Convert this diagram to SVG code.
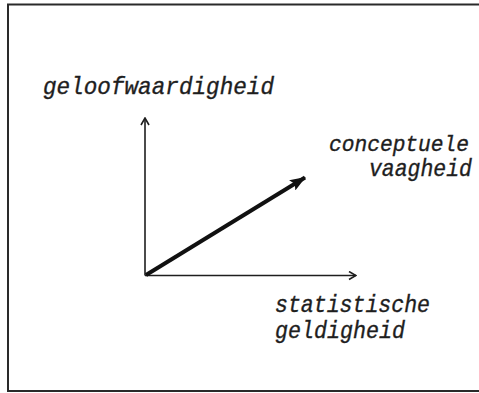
<svg xmlns="http://www.w3.org/2000/svg" width="479" height="393" viewBox="0 0 479 393">
<style>
.lbl{font-family:"Liberation Mono","DejaVu Sans Mono",monospace;font-style:italic;font-size:23px;fill:#1e1e1e;stroke:#1e1e1e;stroke-width:0.35}
.axis{stroke:#1e1e1e;stroke-width:1.6;fill:none}
</style>
<defs>
<marker id="open" viewBox="0 0 10 10" refX="9" refY="5" markerWidth="10" markerHeight="10" markerUnits="userSpaceOnUse" orient="auto">
<path d="M2,1 L9,5 L2,9" fill="none" stroke="#1e1e1e" stroke-width="1.6"/>
</marker>
<marker id="solid" viewBox="0 0 16 12" refX="15" refY="6" markerWidth="16" markerHeight="12" markerUnits="userSpaceOnUse" orient="auto">
<path d="M0,0 L16,6 L0,12 L3,6 Z" fill="#111"/>
</marker>
</defs>
<rect width="479" height="393" fill="#fff"/>
<path d="M479,4.5 H8 V391 H479" fill="none" stroke="#2a2a2a" stroke-width="2"/>
<g id="connectors">
<line class="axis" x1="145" y1="275.5" x2="145" y2="118" marker-end="url(#open)"/>
<line class="axis" x1="145" y1="275.5" x2="356" y2="275.5" marker-end="url(#open)"/>
<line x1="146" y1="275" x2="305" y2="177.5" stroke="#111" stroke-width="4" marker-end="url(#solid)"/>
</g>
<g id="geloofwaardigheid"><text class="lbl" x="43" y="94" textLength="231" lengthAdjust="spacingAndGlyphs">geloofwaardigheid</text></g>
<g id="conceptuele-vaagheid">
<text class="lbl" x="329" y="151" textLength="140" lengthAdjust="spacingAndGlyphs" style="font-size:22px">conceptuele</text>
<text class="lbl" x="369" y="175.5" textLength="103" lengthAdjust="spacingAndGlyphs">vaagheid</text>
</g>
<g id="statistische-geldigheid">
<text class="lbl" x="275" y="312" textLength="155" lengthAdjust="spacingAndGlyphs">statistische</text>
<text class="lbl" x="275" y="338" textLength="130" lengthAdjust="spacingAndGlyphs">geldigheid</text>
</g>
</svg>
